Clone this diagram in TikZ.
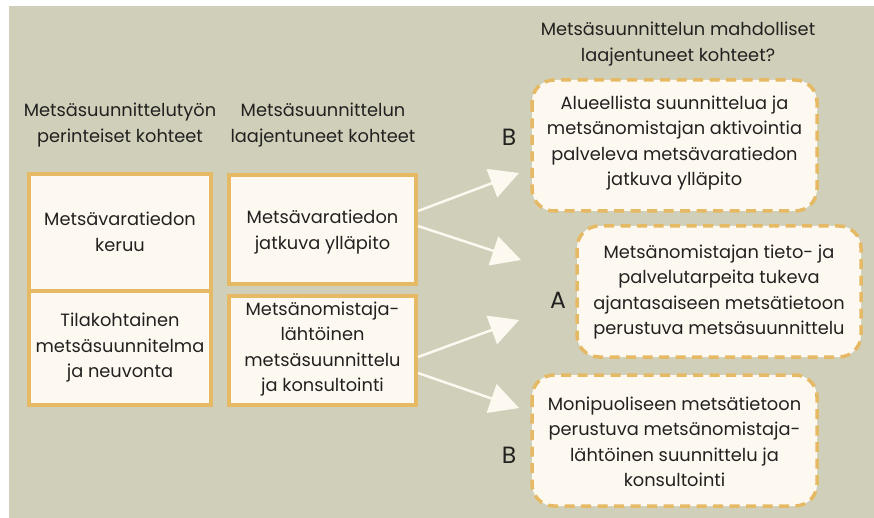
\documentclass[tikz,border=0pt]{standalone}
\usepackage{fontspec}
\setmainfont{Poppins}
\usetikzlibrary{arrows.meta}
\definecolor{bg}{RGB}{208,207,186}
\definecolor{cream}{RGB}{253,249,241}
\definecolor{gold}{RGB}{230,185,100}
\definecolor{ink}{RGB}{35,33,32}
\begin{document}
\begin{tikzpicture}[x=1pt,y=-1pt,
  every node/.style={font=\fontsize{17.8}{25.5}\selectfont, text=ink, align=center, inner sep=0pt},
  plainbox/.style={draw=gold, fill=cream, line width=3.5pt},
  dashbox/.style={draw=gold, fill=cream, line width=3.5pt, dash pattern=on 10pt off 6.5pt, rounded corners=22pt},
  letter/.style={font=\fontsize{23.5}{26}\selectfont},
  arr/.style={draw=cream, line width=2.5pt, -{Triangle[length=29pt,width=30pt]}}]
\useasboundingbox (0,0) rectangle (874,518);
\fill[bg] (9,6) rectangle (874,518);
% left column
\draw[plainbox] (29,174) rectangle (211,291);
\draw[plainbox] (29,291) rectangle (211,405);
\node (l1) at (120,232) {Metsävaratiedon\\keruu};
\node (l2) at (120,348) {Tilakohtainen\\metsäsuunnitelma\\ja neuvonta};
% middle column
\draw[plainbox] (229,175) rectangle (416,284);
\draw[plainbox] (229,296) rectangle (416,405);
\node (m1) at (322.5,232) {Metsävaratiedon\\jatkuva ylläpito};
\node (m2) at (322.5,349) {Metsänomistaja-\\lähtöinen\\metsäsuunnittelu\\ja konsultointi};
% right column
\draw[dashbox] (532,80) rectangle (817,211);
\draw[dashbox] (577,226) rectangle (861,357);
\draw[dashbox] (532,375) rectangle (817,506);
\node (r1) at (674.5,143) {Alueellista suunnittelua ja\\metsänomistajan aktivointia\\palveleva metsävaratiedon\\jatkuva ylläpito};
\node (r2) at (719,292) {Metsänomistajan tieto- ja\\palvelutarpeita tukeva\\ajantasaiseen metsätietoon\\perustuva metsäsuunnittelu};
\node (r3) at (674.5,442) {Monipuoliseen metsätietoon\\perustuva metsänomistaja-\\lähtöinen suunnittelu ja\\konsultointi};
% headers
\node (h1) at (120,125) {Metsäsuunnittelutyön\\perinteiset kohteet};
\node (h2) at (323,125) {Metsäsuunnittelun\\laajentuneet kohteet};
\node (h3) at (678,44) {Metsäsuunnittelun mahdolliset\\laajentuneet kohteet?};
% letters
\node[letter] (b1) at (509,137) {B};
\node[letter] (a1) at (558,300) {A};
\node[letter] (b2) at (509,455) {B};
% arrow ends
\coordinate (t1) at (519,173);
\coordinate (t2) at (521,260);
\coordinate (t3) at (519,320);
\coordinate (t4) at (519,408);
\coordinate (s1) at (418,211);
\coordinate (s2) at (418,226);
\coordinate (s3) at (418,357);
\coordinate (s4) at (418,373);
\draw[arr] (s1) -- (t1);
\draw[arr] (s2) -- (t2);
\draw[arr] (s3) -- (t3);
\draw[arr] (s4) -- (t4);
\end{tikzpicture}
\end{document}
